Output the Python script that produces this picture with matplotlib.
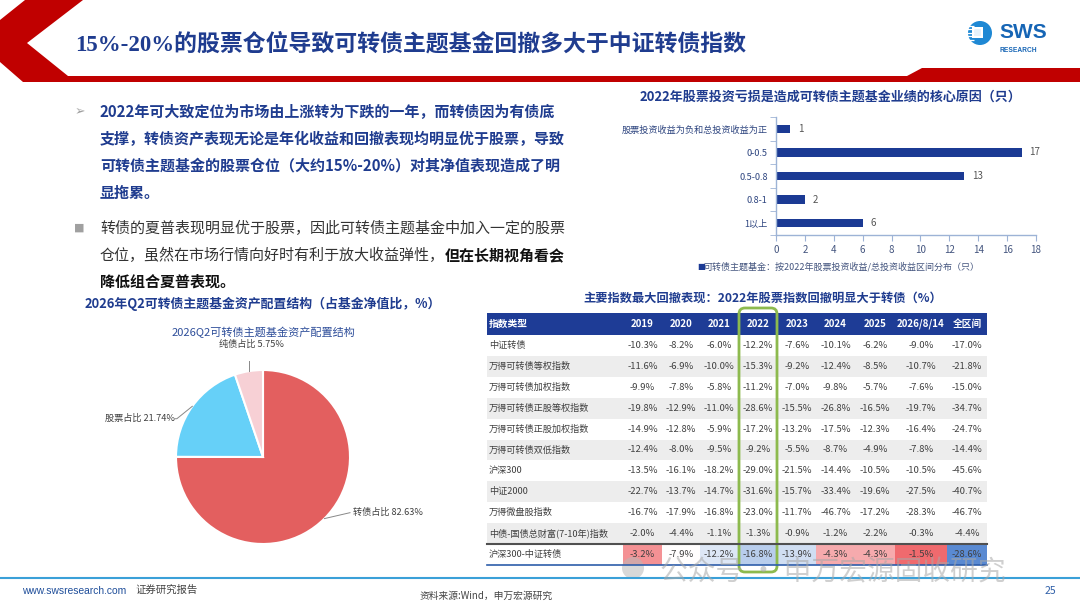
import matplotlib
matplotlib.use('Agg')
import matplotlib.pyplot as plt
import numpy as np
from matplotlib.patches import Polygon, Rectangle, FancyBboxPatch, Circle
from matplotlib.colors import LinearSegmentedColormap, TwoSlopeNorm

plt.rcParams['font.family'] = ['Noto Sans CJK SC', 'DejaVu Sans']

# ---------------- data ----------------
title_text = '15%-20%的股票仓位导致可转债主题基金回撤多大于中证转债指数'

bar_title = '2022年股票投资亏损是造成可转债主题基金业绩的核心原因（只）'
bar_categories = ['股票投资收益为负和总投资收益为正', '0-0.5', '0.5-0.8', '0.8-1', '1以上']
bar_values = [1, 17, 13, 2, 6]
bar_xticks = [0, 2, 4, 6, 8, 10, 12, 14, 16, 18]
bar_legend = '可转债主题基金：按2022年股票投资收益/总投资收益区间分布（只）'

pie_section_title = '2026年Q2可转债主题基金资产配置结构（占基金净值比，%）'
pie_title = '2026Q2可转债主题基金资产配置结构'
pie_labels = ['转债占比', '股票占比', '纯债占比']
pie_values = [82.63, 21.74, 5.75]

table_title = '主要指数最大回撤表现：2022年股票指数回撤明显大于转债（%）'
table_columns = ['指数类型', '2019', '2020', '2021', '2022', '2023', '2024', '2025', '2026/8/14', '全区间']
table_rows = ['中证转债', '万得可转债等权指数', '万得可转债加权指数', '万得可转债正股等权指数',
              '万得可转债正股加权指数', '万得可转债双低指数', '沪深300', '中证2000', '万得微盘股指数',
              '中债-国债总财富(7-10年)指数', '沪深300-中证转债']
table_values = [
    [-10.3, -8.2, -6.0, -12.2, -7.6, -10.1, -6.2, -9.0, -17.0],
    [-11.6, -6.9, -10.0, -15.3, -9.2, -12.4, -8.5, -10.7, -21.8],
    [-9.9, -7.8, -5.8, -11.2, -7.0, -9.8, -5.7, -7.6, -15.0],
    [-19.8, -12.9, -11.0, -28.6, -15.5, -26.8, -16.5, -19.7, -34.7],
    [-14.9, -12.8, -5.9, -17.2, -13.2, -17.5, -12.3, -16.4, -24.7],
    [-12.4, -8.0, -9.5, -9.2, -5.5, -8.7, -4.9, -7.8, -14.4],
    [-13.5, -16.1, -18.2, -29.0, -21.5, -14.4, -10.5, -10.5, -45.6],
    [-22.7, -13.7, -14.7, -31.6, -15.7, -33.4, -19.6, -27.5, -40.7],
    [-16.7, -17.9, -16.8, -23.0, -11.7, -46.7, -17.2, -28.3, -46.7],
    [-2.0, -4.4, -1.1, -1.3, -0.9, -1.2, -2.2, -0.3, -4.4],
    [-3.2, -7.9, -12.2, -16.8, -13.9, -4.3, -4.3, -1.5, -28.6],
]

bullet1_lines = ['2022年可大致定位为市场由上涨转为下跌的一年，而转债因为有债底',
                 '支撑，转债资产表现无论是年化收益和回撤表现均明显优于股票，导致',
                 '可转债主题基金的股票仓位（大约15%-20%）对其净值表现造成了明',
                 '显拖累。']
bullet2_line1 = '转债的夏普表现明显优于股票，因此可转债主题基金中加入一定的股票'
bullet2_line2a = '仓位，虽然在市场行情向好时有利于放大收益弹性，'
bullet2_line2b = '但在长期视角看会'
bullet2_line3 = '降低组合夏普表现。'

# ---------------- figure ----------------
W, H = 1080, 608
fig = plt.figure(figsize=(W / 100, H / 100), dpi=100)
fig.patch.set_facecolor('white')
ax0 = fig.add_axes([0, 0, 1, 1])
ax0.set_xlim(0, W)
ax0.set_ylim(H, 0)
ax0.axis('off')

RED = '#C00000'
NAVY = '#1F3C8F'

# header decoration
ax0.add_patch(Polygon([(25, 0), (83, 0), (27, 43), (68, 76), (907, 76), (922, 68), (1080, 68),
                       (1080, 82), (23, 82), (0, 62), (0, 20)], closed=True, color=RED, lw=0))
ax0.text(75, 44, title_text, fontsize=16.5, color=NAVY, va='center', ha='left', fontweight='bold',
         family=['Liberation Serif', 'Noto Sans CJK SC'])

# logo
ax0.add_patch(Circle((980, 33), 12, color='#1E88D4', lw=0))
for yy in [25.5, 29, 32.5, 36, 39.5]:
    ax0.plot([966, 974], [yy, yy], color='white', lw=0.9, solid_capstyle='butt')
ax0.add_patch(Rectangle((972, 27), 11, 11, color='white', lw=0))
ax0.add_patch(Rectangle((974, 29), 7, 7, color='#E6F2FB', lw=0))
ax0.text(999, 33, 'SWS', fontsize=15, fontweight='bold', color='#1665B5', va='center', ha='left',
         family='Liberation Sans')
ax0.text(1000, 50, 'RESEARCH', fontsize=4.8, fontweight='bold', color='#1665B5', va='center', ha='left',
         family='Liberation Sans')

# bullets
renderer = fig.canvas.get_renderer()
ax0.text(75, 112, '➢', fontsize=9, color='#A0A0A0', va='center', ha='left', family='DejaVu Sans')
for i, ln in enumerate(bullet1_lines):
    ax0.text(100, 112 + i * 27, ln, fontsize=10.8, color=NAVY, fontweight='bold', va='center', ha='left')
ax0.text(74, 228, '■', fontsize=8, color='#A0A0A0', va='center', ha='left', family='DejaVu Sans')
ax0.text(100, 228, bullet2_line1, fontsize=10.8, color='#333333', va='center', ha='left')
t2a = ax0.text(100, 255, bullet2_line2a, fontsize=10.8, color='#333333', va='center', ha='left')
bb = t2a.get_window_extent(renderer)
ax0.text(100 + bb.width, 255, bullet2_line2b, fontsize=10.8, color='#111111', fontweight='bold',
         va='center', ha='left')
ax0.text(100, 282, bullet2_line3, fontsize=10.8, color='#111111', fontweight='bold', va='center', ha='left')

# ---------------- bar chart ----------------
ax0.text(830, 97, bar_title, fontsize=9.4, color=NAVY, fontweight='bold', va='center', ha='center')
axb = fig.add_axes([776 / W, 1 - 235 / H, 260 / W, 118 / H])
ypos = np.arange(len(bar_categories))[::-1]
axb.barh(ypos, bar_values, height=0.36, color='#1B3A94')
for yv, v in zip(ypos, bar_values):
    axb.text(v + 0.55, yv, str(v), va='center', ha='left', fontsize=7, color='#555555')
axb.set_xlim(0, 18)
axb.set_ylim(-0.5, len(bar_categories) - 0.5)
axb.set_xticks(bar_xticks)
axb.set_xticklabels([str(t) for t in bar_xticks], fontsize=7, color='#44557F')
axb.set_yticks(ypos)
axb.set_yticklabels(bar_categories, fontsize=6.6, color='#2F4680')
axb.set_yticks(np.arange(-0.5, len(bar_categories)), minor=True)
axb.tick_params(axis='y', which='major', length=0, pad=6)
axb.tick_params(axis='y', which='minor', length=4, color='#9DB3D6')
axb.tick_params(axis='x', length=4, color='#9DB3D6', pad=3)
for s in ['top', 'right']:
    axb.spines[s].set_visible(False)
for s in ['left', 'bottom']:
    axb.spines[s].set_color('#9DB3D6')
    axb.spines[s].set_linewidth(1.0)
axb.set_facecolor('none')
ax0.text(697, 267, '■', fontsize=6, color='#1B3A94', va='center', ha='left', family='DejaVu Sans')
ax0.text(704, 267, bar_legend, fontsize=6.5, color='#44557F', va='center', ha='left')

# ---------------- pie chart ----------------
ax0.text(85, 304, pie_section_title, fontsize=9.3, color=NAVY, fontweight='bold', va='center', ha='left')
ax0.text(263, 332, pie_title, fontsize=8, color='#2E4E9A', va='center', ha='center')
cx, cy, R = 263, 457, 87
axp = fig.add_axes([(cx - R) / W, 1 - (cy + R) / H, 2 * R / W, 2 * R / H])
wedges, _ = axp.pie(pie_values, colors=['#E35F5F', '#66D0F8', '#F7D0D5'], startangle=90,
                    counterclock=False, wedgeprops=dict(edgecolor='white', linewidth=1.5))
axp.set_xlim(-1, 1)
axp.set_ylim(-1, 1)
lab_fmt = [f'{l} {v:.2f}%' for l, v in zip(pie_labels, pie_values)]
elbows = [(1.0, -0.64), (-0.99, 0.44), (None, 1.1)]
textpos = [(1.035, -0.64, 'left'), (-1.01, 0.44, 'right'), (-0.13, 1.2, 'center')]
for w, lab, el, tp in zip(wedges, lab_fmt, elbows, textpos):
    mid = np.deg2rad((w.theta1 + w.theta2) / 2)
    ex, ey = np.cos(mid), np.sin(mid)
    if el[0] is None:
        xs, ys = [ex, ex], [ey, el[1]]
    else:
        xs, ys = [ex, el[0]], [ey, el[1]]
        if tp[2] == 'right':
            xs.append(el[0] - 0.02); ys.append(el[1])
    axp.plot(xs, ys, color='#888888', lw=0.7, clip_on=False)
    axp.text(tp[0], tp[1] + (0.1 if tp[2] == 'center' else 0), lab, fontsize=6.6, color='#404040',
             va='center', ha=tp[2], clip_on=False)

# ---------------- table ----------------
ax0.text(763, 298, table_title, fontsize=8.8, color=NAVY, fontweight='bold', va='center', ha='center')
col_edges = [487, 623, 662, 700, 738, 778, 816, 855, 895, 947, 987]
hdr_top, hdr_bot = 313, 335
row_h = (565 - hdr_bot) / len(table_rows)
ax0.add_patch(Rectangle((col_edges[0], hdr_top), col_edges[-1] - col_edges[0], hdr_bot - hdr_top,
                        color='#1E3C96', lw=0))
for j, c in enumerate(table_columns):
    if j == 0:
        ax0.text(col_edges[0] + 2, (hdr_top + hdr_bot) / 2, c, fontsize=7, color='white',
                 fontweight='bold', va='center', ha='left')
    else:
        ax0.text((col_edges[j] + col_edges[j + 1]) / 2, (hdr_top + hdr_bot) / 2, c, fontsize=7,
                 color='white', fontweight='bold', va='center', ha='center')

cmap = LinearSegmentedColormap.from_list('rb', ['#5A8AD2', '#FFFFFF', '#F06A6E'])
last_vals = table_values[-1]
norm = TwoSlopeNorm(vmin=min(last_vals), vcenter=-8.0, vmax=max(last_vals))

for i, (name, vals) in enumerate(zip(table_rows, table_values)):
    y0 = hdr_bot + i * row_h
    yc = y0 + row_h / 2
    last = (i == len(table_rows) - 1)
    if i % 2 == 1 and not last:
        ax0.add_patch(Rectangle((col_edges[0], y0), col_edges[-1] - col_edges[0], row_h,
                                color='#EDEDED', lw=0))
    if last:
        for j, v in enumerate(vals):
            ax0.add_patch(Rectangle((col_edges[j + 1], y0), col_edges[j + 2] - col_edges[j + 1], row_h,
                                    color=cmap(norm(v)), lw=0))
    ax0.text(col_edges[0] + 2, yc, name, fontsize=6.6, color='#404040', va='center', ha='left')
    for j, v in enumerate(vals):
        ax0.text((col_edges[j + 1] + col_edges[j + 2]) / 2, yc, f'{v:.1f}%', fontsize=6.8,
                 color='#404040', va='center', ha='center')

y_last = hdr_bot + (len(table_rows) - 1) * row_h
ax0.plot([col_edges[0], col_edges[-1]], [y_last, y_last], color='#505050', lw=1.5)
ax0.plot([col_edges[0], col_edges[-1]], [565, 565], color='#2E5DAA', lw=1.2)

# green highlight box around 2022
ax0.add_patch(FancyBboxPatch((739, 308), 38, 264, boxstyle='round,pad=0,rounding_size=6',
                             fc='none', ec='#8DBA4E', lw=2))

# watermark (semi-transparent, as in the source slide)
ax0.add_patch(Circle((633, 568), 11, color='#B8B8B8', alpha=0.55, lw=0))
ax0.text(660, 572, '公众号 · 申万宏源固收研究', fontsize=20, color='#A8A8A8', alpha=0.55,
         va='center', ha='left')

# ---------------- footer ----------------
ax0.plot([0, W], [578, 578], color='#3AA0D8', lw=1.5)
ax0.text(22, 591, 'www.swsresearch.com', fontsize=7.4, color='#1F4E9A', va='center', ha='left',
         family='Liberation Sans')
ax0.text(135, 590, '证券研究报告', fontsize=7.5, color='#444444', va='center', ha='left')
ax0.text(420, 596, '资料来源:Wind，申万宏源研究', fontsize=7, color='#444444', va='center', ha='left')
ax0.text(1045, 591, '25', fontsize=7.5, color='#2F5FA8', va='center', ha='left')

fig.savefig('out.png', dpi=100)
